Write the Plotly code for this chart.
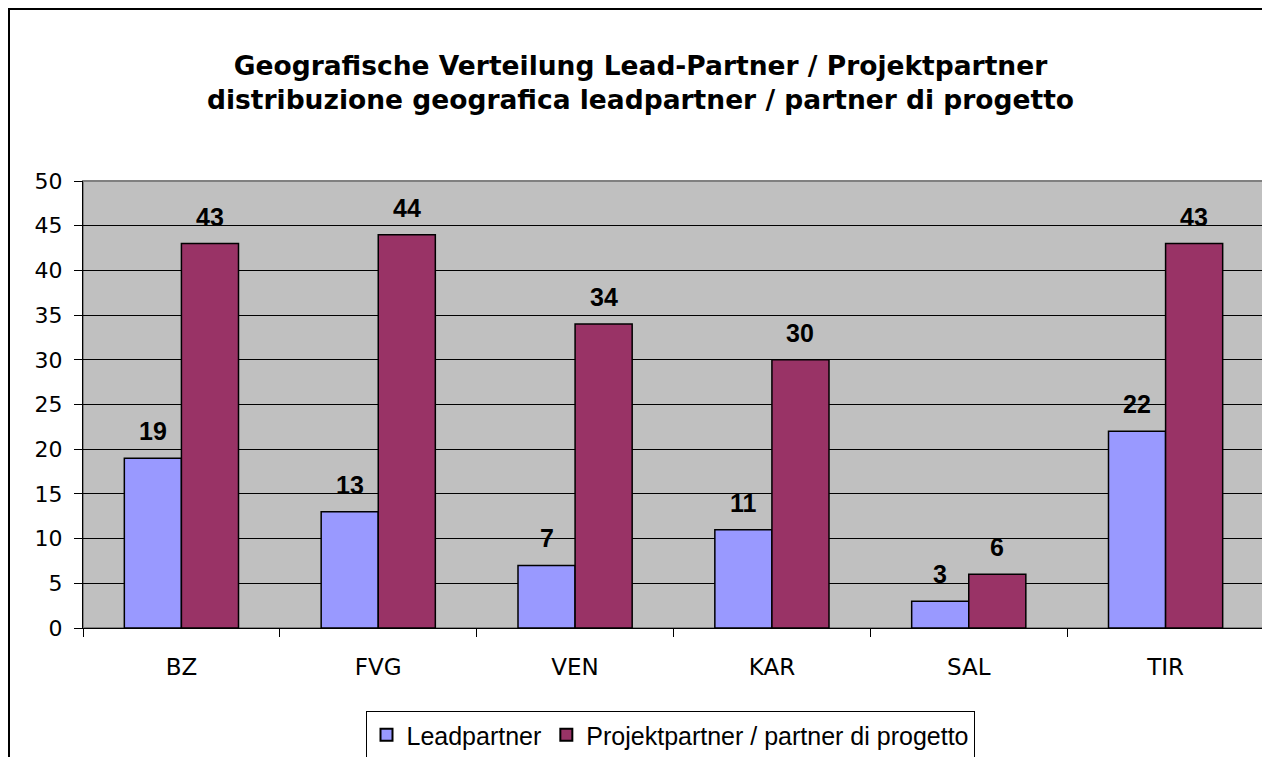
import plotly.graph_objects as go

categories = ["BZ", "FVG", "VEN", "KAR", "SAL", "TIR"]
leadpartner = [19, 13, 7, 11, 3, 22]
projektpartner = [43, 44, 34, 30, 6, 43]
series_names = ["Leadpartner", "Projektpartner / partner di progetto"]
title_lines = ["Geografische Verteilung Lead-Partner / Projektpartner",
               "distribuzione geografica leadpartner / partner di progetto"]

ARIAL = "Liberation Sans, Arial, sans-serif"
WIDE = "DejaVu Sans, Verdana, sans-serif"

# page has an 8px body margin, so figure coords = page coords - 8
W, H = 1262, 749
L, R, T, B = 75, 6, 173, 129
pw = W - L - R
ph = H - T - B

fig = go.Figure()
fig.add_trace(go.Bar(name=series_names[0], x=categories, y=leadpartner,
                     marker=dict(color="#9999FF", line=dict(color="black", width=1.5))))
fig.add_trace(go.Bar(name=series_names[1], x=categories, y=projektpartner,
                     marker=dict(color="#993366", line=dict(color="black", width=1.5))))

bar_px = pw / len(categories) * 0.58 / 2
annotations = []
for vals, sh in ((leadpartner, -bar_px / 2), (projektpartner, bar_px / 2)):
    for c, v in zip(categories, vals):
        annotations.append(dict(x=c, y=v, xref="x", yref="y", text="<b>%d</b>" % v,
                                showarrow=False, xshift=sh, yshift=11, yanchor="bottom",
                                font=dict(family=ARIAL, size=25, color="black")))

annotations.append(dict(x=(632 - L) / pw, y=(H - B - 74.5) / ph, xref="paper", yref="paper",
                        text="<b>%s<br>%s</b>" % tuple(title_lines), showarrow=False,
                        xanchor="center", yanchor="middle",
                        font=dict(family=WIDE, size=26.5, color="black")))

shapes = [
    # outer chart border
    dict(type="rect", xref="paper", yref="paper",
         x0=(1 - L) / pw, x1=(W + 20 - L) / pw, y0=-(B + 40) / ph, y1=(H - B - 1) / ph,
         line=dict(color="black", width=2), fillcolor="rgba(0,0,0,0)", layer="below"),
    # plot area border
    dict(type="rect", xref="paper", yref="paper", x0=0, x1=1, y0=0, y1=1,
         line=dict(color="#808080", width=2), fillcolor="rgba(0,0,0,0)", layer="below"),
]

fig.update_layout(
    width=W, height=H,
    margin=dict(l=L, r=R, t=T, b=B, autoexpand=False),
    paper_bgcolor="white", plot_bgcolor="#C0C0C0",
    barmode="group", bargap=0.42, bargroupgap=0,
    font=dict(family=ARIAL, size=20, color="black"),
    showlegend=True,
    legend=dict(orientation="h", x=(662 - L) / pw, xanchor="center",
                y=-(703 - (H - B)) / ph, yanchor="top",
                bordercolor="black", borderwidth=1, bgcolor="white",
                font=dict(family=ARIAL, size=25, color="black"),
                itemsizing="constant", traceorder="normal", itemwidth=30,
                tracegroupgap=0),
    annotations=annotations,
    shapes=shapes,
)
fig.update_xaxes(showgrid=False, showline=True, linecolor="black", linewidth=1,
                 ticks="outside", tickson="boundaries", ticklen=8, tickcolor="black",
                 ticklabelstandoff=18, tickfont=dict(family=WIDE, size=23))
fig.update_yaxes(range=[0, 50], dtick=5, showgrid=True, gridcolor="black", gridwidth=1,
                 showline=True, linecolor="black", linewidth=1, zeroline=False,
                 ticks="outside", ticklen=8, tickcolor="black", ticklabelstandoff=7,
                 tickfont=dict(family=WIDE, size=22))

fig.write_html("out.html")
